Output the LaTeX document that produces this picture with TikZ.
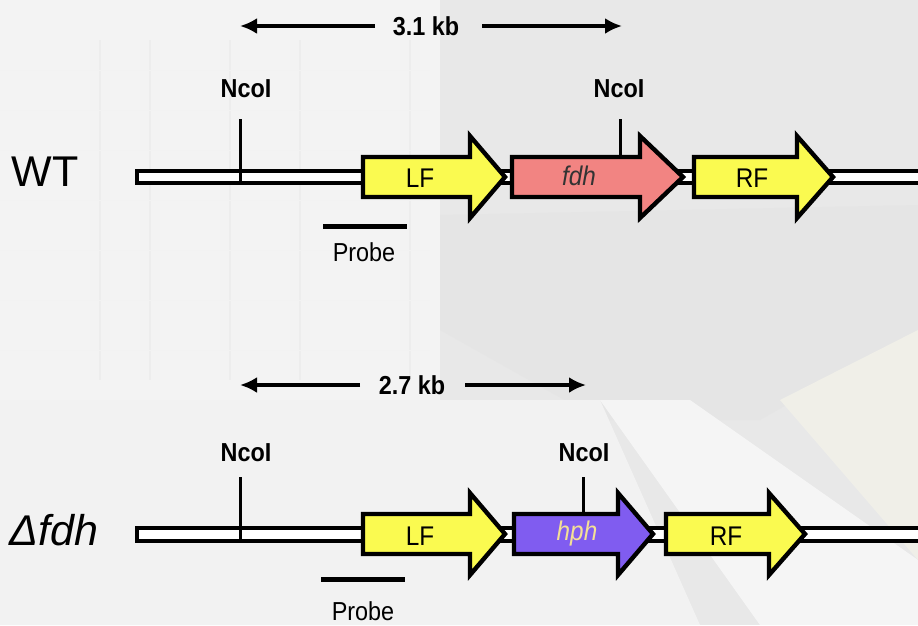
\documentclass[tikz,border=0pt]{standalone}
\usepackage{fontspec}
\setmainfont{Liberation Sans}
\newfontfamily\narrowsans[FakeStretch=0.9]{Liberation Sans}
\usetikzlibrary{arrows.meta}

\definecolor{geneyellow}{RGB}{250,250,80}
\definecolor{genepink}{RGB}{242,132,130}
\definecolor{genepurple}{RGB}{128,92,240}
\definecolor{hphtext}{RGB}{244,224,150}
\definecolor{bgbase}{RGB}{232,232,232}

% gene drawn as a block arrow: start x, head start x, tip x, centre y, fill
\newcommand\genearrow[5]{%
  \draw[genebox,fill=#5] (#1,#4-20) -- (#2,#4-20) -- (#2,#4-41) -- (#3,#4)
    -- (#2,#4+41) -- (#2,#4+20) -- (#1,#4+20) -- cycle;}

\begin{document}
\begin{tikzpicture}[x=1pt,y=-1pt,
  dna/.style={draw=black,line width=3.2pt,fill=white},
  genebox/.style={draw=black,line width=4.4pt,line join=miter},
  site/.style={draw=black,line width=3pt},
  probebar/.style={draw=black,line width=5pt},
  dimline/.style={draw=black,line width=4pt,-{Latex[length=17pt,width=16pt]}},
  small/.style={font=\narrowsans\fontsize{26}{26}\selectfont},
  smallbold/.style={font=\narrowsans\fontsize{26}{26}\selectfont\bfseries},
  genelabel/.style={font=\narrowsans\fontsize{27}{27}\selectfont},
  rowlabel/.style={font=\fontsize{43}{43}\selectfont, anchor=west}
]
\useasboundingbox (0,0) rectangle (918,625);
\clip (0,0) rectangle (918,625);

% faded photographic backdrop
\fill[bgbase] (0,0) rectangle (918,625);
\fill[white,opacity=0.5] (0,0) rectangle (440,400);
\fill[black!10] (440,215) -- (918,205) -- (918,330) -- (760,420) -- (600,420) -- (440,330) -- cycle;
\fill[black!5] (0,400) -- (600,400) -- (700,625) -- (0,625) -- cycle;
\fill[white,opacity=0.6] (600,400) -- (690,400) -- (918,560) -- (918,625) -- (760,625) -- cycle;
\fill[yellow!30!black!10] (780,400) -- (918,330) -- (918,560) -- cycle;
\foreach \xx in {100,150,230,300,410} \draw[black!7,line width=1.2pt] (\xx,40) -- (\xx,380);
\foreach \yy in {70,110,150,200,250,300,350} \draw[black!5,line width=1pt] (0,\yy) -- (430,\yy);

% ---------------- WT locus ----------------
\node[rowlabel] (wt) at (8,172) {WT};
\draw[dna] (137,171) rectangle (940,183);
\genearrow{363}{470}{505}{177}{geneyellow}
\genearrow{512}{640}{683}{177}{genepink}
\genearrow{694}{797}{833}{177}{geneyellow}
\node[genelabel] (wtLF) at (420,178) {LF};
\node[genelabel,font=\narrowsans\fontsize{27}{27}\selectfont\itshape,text=black!80] (wtfdh) at (579,176) {fdh};
\node[genelabel] (wtRF) at (752,178) {RF};

\node[smallbold] (wtN1) at (246,89) {NcoI};
\node[smallbold] (wtN2) at (619,89) {NcoI};
\coordinate (wtS1) at (240,183);
\coordinate (wtS2) at (620,157);
\draw[site] (240,119) -- (wtS1);
\draw[site] (620,119) -- (wtS2);

\coordinate (wtP1) at (323,226);
\coordinate (wtP2) at (407,226);
\draw[probebar] (wtP1) -- (wtP2);
\node[small] (wtProbe) at (364,252) {Probe};

\node[smallbold] (kb31) at (426,26) {3.1 kb};
\coordinate (kb31L) at (240,26);
\coordinate (kb31R) at (622,26);
\draw[dimline] (375,26) -- (kb31L);
\draw[dimline] (482,26) -- (kb31R);

% ---------------- deletion locus ----------------
\node[rowlabel,font=\fontsize{43}{43}\selectfont\itshape] (dfdh) at (6,530) {Δfdh};
\draw[dna] (137,528) rectangle (940,541);
\genearrow{363}{470}{505}{534}{geneyellow}
\genearrow{514}{618}{653}{534}{genepurple}
\genearrow{666}{769}{805}{534}{geneyellow}
\node[genelabel] (dLF) at (420,536) {LF};
\node[genelabel,font=\narrowsans\fontsize{27}{27}\selectfont\itshape,text=hphtext] (dhph) at (577,534) {hph};
\node[genelabel] (dRF) at (726,536) {RF};

\node[smallbold] (dN1) at (246,453) {NcoI};
\node[smallbold] (dN2) at (584,453) {NcoI};
\coordinate (dS1) at (240,541);
\coordinate (dS2) at (583,514);
\draw[site] (240,477) -- (dS1);
\draw[site] (583,477) -- (dS2);

\coordinate (dP1) at (321,579);
\coordinate (dP2) at (405,579);
\draw[probebar] (dP1) -- (dP2);
\node[small] (dProbe) at (363,611) {Probe};

\node[smallbold] (kb27) at (412,385) {2.7 kb};
\coordinate (kb27L) at (240,385);
\coordinate (kb27R) at (586,385);
\draw[dimline] (360,385) -- (kb27L);
\draw[dimline] (465,385) -- (kb27R);
\end{tikzpicture}
\end{document}
